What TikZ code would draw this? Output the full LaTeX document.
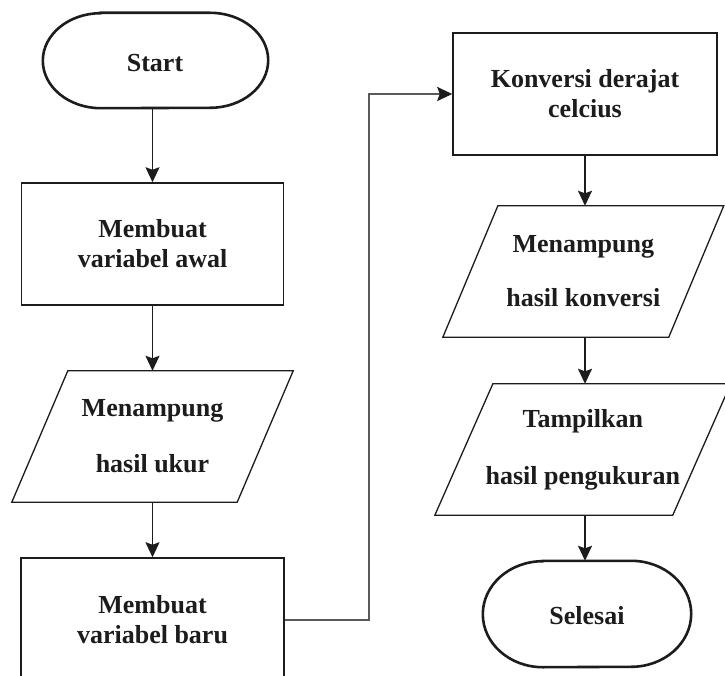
\documentclass[tikz,border=0pt]{standalone}
\usepackage{fontspec}
\setmainfont{Liberation Serif}
\usetikzlibrary{arrows.meta}
\definecolor{ink}{HTML}{1C1C1C}
\definecolor{conngray}{HTML}{5A5A5A}
\begin{document}
\begin{tikzpicture}[x=1pt,y=-1pt,
  txt/.style={font=\fontsize{26}{30}\selectfont\bfseries, text=ink, align=center, inner sep=0pt},
  term/.style={txt, draw=none, rectangle},
  procbox/.style={txt, draw=ink, line width=1.5pt, rectangle},
  iobox/.style={txt, draw=none, rectangle},
  ioline/.style={draw=ink, line width=1.3pt, line join=miter},
  termline/.style={draw=ink, line width=2.6pt},
  flow/.style={draw=ink, line width=1.6pt, -{Stealth[length=15pt,width=14pt,inset=2.5pt]}},
  conn/.style={draw=conngray, line width=2pt, -{Stealth[length=15pt,width=14pt,inset=2.5pt,color=ink]}}
]
\fill[white] (0,0) rectangle (725,676);
\useasboundingbox (0,0) rectangle (725,676);
\clip (0,0) rectangle (725,676);

% Start terminator
\node[term, minimum width=225pt, minimum height=95pt] (start) at (155.5,60.5) {};
\node[txt] (starttxt) at (155,63.5) {Start};
\draw[termline] ([xshift=58pt]start.north west) -- ([xshift=-58pt]start.north east)
  arc[start angle=-90, end angle=90, x radius=58, y radius=47.5]
  -- ([xshift=58pt]start.south west)
  arc[start angle=90, end angle=270, x radius=58, y radius=47.5] -- cycle;

% Box 1
\node[procbox, minimum width=262pt, minimum height=122pt] (b1) at (152.5,244) {Membuat\\variabel awal};

% Parallelogram 1
\node[iobox, minimum width=225pt, minimum height=131pt] (p1) at (152.5,436.5) {Menampung\\[26pt]hasil ukur};
\draw[ioline] ([xshift=28pt]p1.north west) -- ([xshift=28pt]p1.north east)
  -- ([xshift=-28pt]p1.south east) -- ([xshift=-28pt]p1.south west) -- cycle;

% Box 2
\node[procbox, minimum width=263pt, minimum height=124pt] (b2) at (152.5,620) {Membuat\\variabel baru};

% Box 3
\node[procbox, minimum width=264pt, minimum height=122pt] (b3) at (585,94) {Konversi derajat\\celcius};

% Parallelogram 2
\node[iobox, minimum width=225.5pt, minimum height=131pt] (p2) at (583.3,271.5) {Menampung\\[24pt]hasil konversi};
\draw[ioline] ([xshift=27.5pt]p2.north west) -- ([xshift=27.5pt]p2.north east)
  -- ([xshift=-27.5pt]p2.south east) -- ([xshift=-27.5pt]p2.south west) -- cycle;

% Parallelogram 3
\node[iobox, minimum width=237.5pt, minimum height=131pt] (p3) at (582.8,449.5) {Tampilkan\\[27pt]hasil pengukuran};
\draw[ioline] ([xshift=29pt]p3.north west) -- ([xshift=29pt]p3.north east)
  -- ([xshift=-29pt]p3.south east) -- ([xshift=-29pt]p3.south west) -- cycle;

% Selesai terminator
\node[term, minimum width=208pt, minimum height=106pt] (end) at (587,614) {};
\node[txt] (endtxt) at (587,616) {Selesai};
\draw[termline] ([xshift=60pt]end.north west) -- ([xshift=-60pt]end.north east)
  arc[start angle=-90, end angle=90, x radius=60, y radius=53]
  -- ([xshift=60pt]end.south west)
  arc[start angle=90, end angle=270, x radius=60, y radius=53] -- cycle;

% Flow arrows
\draw[flow] (start.south -| b1.north) -- (b1.north);
\draw[flow] (b1.south) -- (p1.north);
\draw[flow] (p1.south) -- (b2.north);
\coordinate (bend) at (369,0);
\draw[conn] (b2.east) -- (b2.east -| bend) |- (b3.west);
\draw[flow] (b3.south) -- (b3.south |- p2.north);
\draw[flow] (b3.south |- p2.south) -- (b3.south |- p3.north);
\draw[flow] (b3.south |- p3.south) -- (b3.south |- end.north);
\end{tikzpicture}
\end{document}
